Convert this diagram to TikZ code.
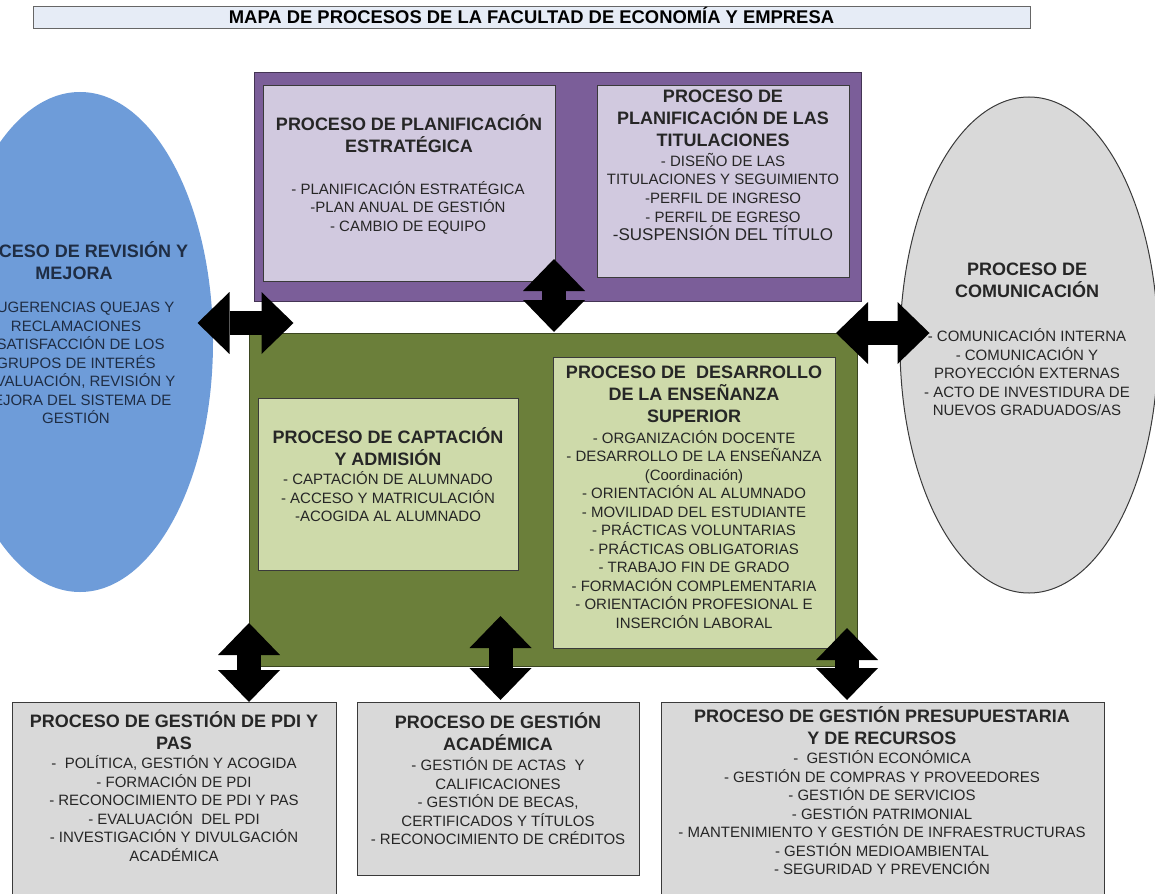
\documentclass[tikz,border=0pt]{standalone}
\usepackage{fontspec}
\setmainfont{Liberation Sans}
\usepackage{xcolor}
\usepackage{tikz}
\usetikzlibrary{shapes.geometric, arrows.meta, calc}

\definecolor{barfill}{HTML}{E6ECF6}
\definecolor{purpdark}{HTML}{7B5E99}
\definecolor{purplight}{HTML}{D1C9DF}
\definecolor{greendark}{HTML}{6B7F3A}
\definecolor{greenlight}{HTML}{CEDAAA}
\definecolor{bluefill}{HTML}{6E9CD9}
\definecolor{greyfill}{HTML}{D9D9D9}
\definecolor{inkline}{HTML}{3A3A3A}
\definecolor{bluetext}{HTML}{1F2D44}

\newcommand{\tstrut}{\rule{0pt}{.95em}}

\begin{document}
\begin{tikzpicture}[x=1pt, y=-1pt, line width=1pt,
  box/.style={draw=inkline, anchor=north west, inner sep=0pt},
  ttl/.style={anchor=north, align=center, inner sep=0pt, text=black!85, font=\fontsize{18}{22}\selectfont\bfseries},
  itm/.style={anchor=north, align=center, inner sep=0pt, text=black!85, font=\fontsize{15}{18.5}\selectfont},
  dblarrow/.style={line width=24pt, {Triangle[length=32pt,width=62pt,line width=0pt]}-{Triangle[length=32pt,width=62pt,line width=0pt]}}]

\useasboundingbox (0,0) rectangle (1155,893);

\node[draw=black!60, fill=barfill, minimum width=997pt, minimum height=22pt, inner sep=0pt, text height=13pt, text depth=0pt, font=\fontsize{18.4}{20}\selectfont\bfseries] (mapa) at (531.5,17.5) {MAPA DE PROCESOS DE LA FACULTAD DE ECONOMÍA Y EMPRESA};

\node[box, fill=purpdark, draw=purpdark!55!black, minimum width=607pt, minimum height=229pt] (planif) at (254,72) {};
\node[box, fill=purplight, minimum width=292pt, minimum height=196pt] (estrat) at (263,85) {};
\node[box, fill=purplight, minimum width=252pt, minimum height=192pt] (titul) at (597,85) {};

\node[box, fill=greendark, draw=greendark!55!black, minimum width=608pt, minimum height=333pt] (docencia) at (249,333) {};
\node[box, fill=greenlight, minimum width=260pt, minimum height=172pt] (captacion) at (258,398) {};
\node[box, fill=greenlight, minimum width=282pt, minimum height=291pt] (desarrollo) at (553,357) {};

\node[ellipse, fill=bluefill, minimum width=266pt, minimum height=500pt, inner sep=0pt] (revision) at (80,342) {};
\node[ellipse, draw=inkline, fill=greyfill, minimum width=258pt, minimum height=496pt, inner sep=0pt] (comunic) at (1029,345) {};

\node[box, fill=greyfill, minimum width=324pt, minimum height=220pt] (pdi) at (12,702) {};
\node[box, fill=greyfill, minimum width=282pt, minimum height=173pt] (academica) at (357,702) {};
\node[box, fill=greyfill, minimum width=443pt, minimum height=220pt] (presup) at (661,702) {};

\node[ttl] (estrattit) at (409,113) {\tstrut PROCESO DE PLANIFICACIÓN\\ESTRATÉGICA};
\node[itm] (estratlist) at (408,179.75) {\tstrut - PLANIFICACIÓN ESTRATÉGICA\\-PLAN ANUAL DE GESTIÓN\\- CAMBIO DE EQUIPO};

\node[ttl] (titultit) at (723,85) {\tstrut PROCESO DE\\PLANIFICACIÓN DE LAS\\TITULACIONES};
\node[itm] (titullist) at (723,151.75) {\tstrut - DISEÑO DE LAS\\TITULACIONES Y SEGUIMIENTO\\-PERFIL DE INGRESO\\- PERFIL DE EGRESO\\{\fontsize{17}{18.5}\selectfont -SUSPENSIÓN DEL TÍTULO}};

\node[ttl, text=bluetext] (revisiontit) at (74,240) {\tstrut PROCESO DE REVISIÓN Y\\MEJORA};
\node[itm, text=bluetext] (revisionlist) at (76,297.75) {\tstrut - SUGERENCIAS QUEJAS Y\\RECLAMACIONES\\- SATISFACCIÓN DE LOS\\GRUPOS DE INTERÉS\\- EVALUACIÓN, REVISIÓN Y\\MEJORA DEL SISTEMA DE\\GESTIÓN};

\node[ttl] (comunictit) at (1027,258) {\tstrut PROCESO DE\\COMUNICACIÓN};
\node[itm] (comuniclist) at (1027,326.75) {\tstrut - COMUNICACIÓN INTERNA\\- COMUNICACIÓN Y\\PROYECCIÓN EXTERNAS\\- ACTO DE INVESTIDURA DE\\NUEVOS GRADUADOS/AS};

\node[ttl] (captaciontit) at (388,426) {\tstrut PROCESO DE CAPTACIÓN\\Y ADMISIÓN};
\node[itm] (captacionlist) at (388,469.75) {\tstrut - CAPTACIÓN DE ALUMNADO\\- ACCESO Y MATRICULACIÓN\\-ACOGIDA AL ALUMNADO};

\node[ttl] (desarrollotit) at (694,361) {\tstrut PROCESO DE \ DESARROLLO\\DE LA ENSEÑANZA\\SUPERIOR};
\node[itm] (desarrollolist) at (694,428.25) {\tstrut - ORGANIZACIÓN DOCENTE\\- DESARROLLO DE LA ENSEÑANZA\\(Coordinación)\\- ORIENTACIÓN AL ALUMNADO\\- MOVILIDAD DEL ESTUDIANTE\\- PRÁCTICAS VOLUNTARIAS\\- PRÁCTICAS OBLIGATORIAS\\- TRABAJO FIN DE GRADO\\- FORMACIÓN COMPLEMENTARIA\\- ORIENTACIÓN PROFESIONAL E\\INSERCIÓN LABORAL};

\node[ttl] (pditit) at (174,710) {\tstrut PROCESO DE GESTIÓN DE PDI Y\\PAS};
\node[itm] (pdilist) at (174,753.75) {\tstrut - \ POLÍTICA, GESTIÓN Y ACOGIDA\\- FORMACIÓN DE PDI\\- RECONOCIMIENTO DE PDI Y PAS\\- EVALUACIÓN \ DEL PDI\\- INVESTIGACIÓN Y DIVULGACIÓN\\ACADÉMICA};

\node[ttl] (academicatit) at (498,711) {\tstrut PROCESO DE GESTIÓN\\ACADÉMICA};
\node[itm] (academicalist) at (498,755.75) {\tstrut - GESTIÓN DE ACTAS \ Y\\CALIFICACIONES\\- GESTIÓN DE BECAS,\\CERTIFICADOS Y TÍTULOS\\- RECONOCIMIENTO DE CRÉDITOS};

\node[ttl] (presuptit) at (882,705) {\tstrut PROCESO DE GESTIÓN PRESUPUESTARIA\\Y DE RECURSOS};
\node[itm] (presuplist) at (882,748.75) {\tstrut - \ GESTIÓN ECONÓMICA\\- GESTIÓN DE COMPRAS Y PROVEEDORES\\- GESTIÓN DE SERVICIOS\\- GESTIÓN PATRIMONIAL\\- MANTENIMIENTO Y GESTIÓN DE INFRAESTRUCTURAS\\- GESTIÓN MEDIOAMBIENTAL\\- SEGURIDAD Y PREVENCIÓN};

\draw[dblarrow] ($(revision.east)+(-16,-19)$) -- ($(revision.east)+(80,-19)$);
\draw[dblarrow] ($(estrat.south east)+(-2,-23)$) -- ($(estrat.east |- docencia.north)+(-2,-1)$);
\draw[dblarrow] ($(docencia.north east)+(-22,0)$) -- ($(comunic.west)+(30,-12)$);
\draw[dblarrow] (docencia.west |- pdi.north) -- ($(docencia.south west)+(0,-44)$);
\draw[dblarrow] ($(academica.north)+(2,-2)$) -- ($(academica.north |- docencia.south)+(2,-51)$);
\draw[dblarrow] ($(presup.north)+(-36,-2)$) -- ($(presup.north |- docencia.south)+(-36,-39)$);

\end{tikzpicture}
\end{document}
